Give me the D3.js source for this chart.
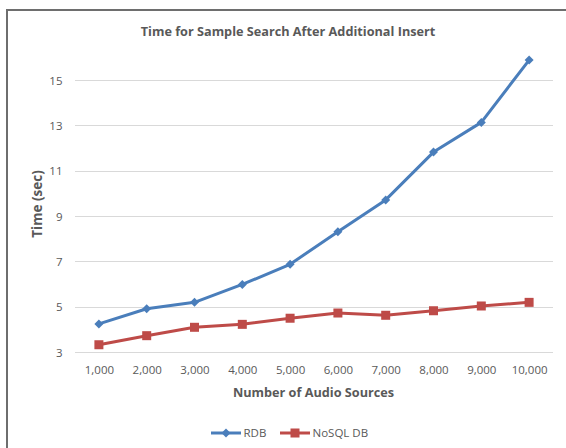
<!DOCTYPE html>
<html>
<head>
<meta charset="utf-8">
<script src="https://cdn.jsdelivr.net/npm/d3@7"></script>
<style>
  html, body { margin: 0; padding: 0; background: #fff; }
  svg { display: block; font-family: "Open Sans", Lato, sans-serif; }
</style>
</head>
<body>
<svg id="chart" width="566" height="448"></svg>
<script>
// Categories and measured search times (seconds)
const sources = ["1,000", "2,000", "3,000", "4,000", "5,000", "6,000", "7,000", "8,000", "9,000", "10,000"];
const rdbTimes = [4.24, 4.91, 5.19, 5.98, 6.87, 8.31, 9.71, 11.82, 13.13, 15.88];
const nosqlTimes = [3.32, 3.72, 4.09, 4.22, 4.49, 4.72, 4.62, 4.82, 5.03, 5.19];
const yTicks = [3, 5, 7, 9, 11, 13, 15];

const series = [
  { name: "RDB", values: rdbTimes, color: "#4a7ebb", marker: "diamond" },
  { name: "NoSQL DB", values: nosqlTimes, color: "#be4b48", marker: "square" }
];

const svg = d3.select("#chart");
const textColor = "#595959";
const font = "'Open Sans', Lato, sans-serif";

// Chart frame (runs off the right and bottom edges)
svg.append("rect")
  .attr("x", 7).attr("y", 10)
  .attr("width", 600).attr("height", 500)
  .attr("fill", "#fff")
  .attr("stroke", "#6e6e6e").attr("stroke-width", 2);

const x = d3.scaleBand().domain(sources).range([75, 553]);
const y = d3.scaleLinear().domain([3, 15]).range([352, 80]);

// Horizontal gridlines
svg.append("g")
  .selectAll("line")
  .data(yTicks)
  .join("line")
  .attr("x1", 75).attr("x2", 553)
  .attr("y1", d => Math.round(y(d)) + 0.5)
  .attr("y2", d => Math.round(y(d)) + 0.5)
  .attr("stroke", "#d9d9d9").attr("stroke-width", 1);

// Y axis labels
const yAxis = svg.append("g")
  .attr("transform", "translate(62.5,0.5)")
  .call(d3.axisLeft(y).tickValues(yTicks).tickSize(0).tickPadding(0).tickFormat(d3.format("d")));
yAxis.select(".domain").remove();
yAxis.selectAll("text")
  .attr("fill", textColor)
  .style("font-size", "11.5px")
  .style("font-family", font);

// X axis labels
const xAxis = svg.append("g")
  .attr("transform", "translate(0.5,356)")
  .call(d3.axisBottom(x).tickSize(0).tickPadding(10));
xAxis.select(".domain").remove();
xAxis.selectAll("text")
  .attr("fill", textColor)
  .style("font-size", "11.5px")
  .style("font-family", font);

// Titles
svg.append("text")
  .attr("x", 288).attr("y", 36)
  .attr("text-anchor", "middle")
  .attr("fill", textColor)
  .style("font-size", "12.7px").style("font-weight", "bold")
  .text("Time for Sample Search After Additional Insert");

svg.append("text")
  .attr("x", 313.5).attr("y", 397)
  .attr("text-anchor", "middle")
  .attr("fill", textColor)
  .style("font-size", "12.7px").style("font-weight", "bold")
  .text("Number of Audio Sources");

svg.append("text")
  .attr("transform", "translate(41.5,204) rotate(-90)")
  .attr("text-anchor", "middle")
  .attr("fill", textColor)
  .style("font-size", "13.5px").style("font-weight", "bold")
  .text("Time (sec)");

const cx = d => x(d) + x.bandwidth() / 2;
const line = d3.line().x(d => cx(d[0])).y(d => y(d[1]));

function drawMarker(g, type, color) {
  if (type === "diamond") {
    g.append("path").attr("d", "M0,-4.5L4.5,0L0,4.5L-4.5,0Z").attr("fill", color);
  } else {
    g.append("rect").attr("x", -4.5).attr("y", -4.5).attr("width", 9).attr("height", 9).attr("fill", color);
  }
}

series.forEach(s => {
  const pts = sources.map((c, i) => [c, s.values[i]]);
  svg.append("path")
    .datum(pts)
    .attr("d", line)
    .attr("fill", "none")
    .attr("stroke", s.color)
    .attr("stroke-width", 3)
    .attr("stroke-linejoin", "round");
  svg.append("g")
    .selectAll("g")
    .data(pts)
    .join("g")
    .attr("transform", d => `translate(${cx(d[0])},${y(d[1])})`)
    .each(function () { drawMarker(d3.select(this), s.marker, s.color); });
});

// Legend
const legendItems = [
  { s: series[0], x0: 211 },
  { s: series[1], x0: 280 }
];
legendItems.forEach(({ s, x0 }) => {
  const g = svg.append("g").attr("transform", `translate(${x0},433)`);
  g.append("line").attr("x1", 0).attr("x2", 30).attr("y1", 0).attr("y2", 0)
    .attr("stroke", s.color).attr("stroke-width", 3);
  const m = g.append("g").attr("transform", "translate(15,0)");
  drawMarker(m, s.marker, s.color);
  g.append("text").attr("x", 32.5).attr("y", 4)
    .attr("fill", textColor)
    .style("font-size", "11.5px")
    .style("font-family", font)
    .text(s.name);
});
</script>
</body>
</html>
